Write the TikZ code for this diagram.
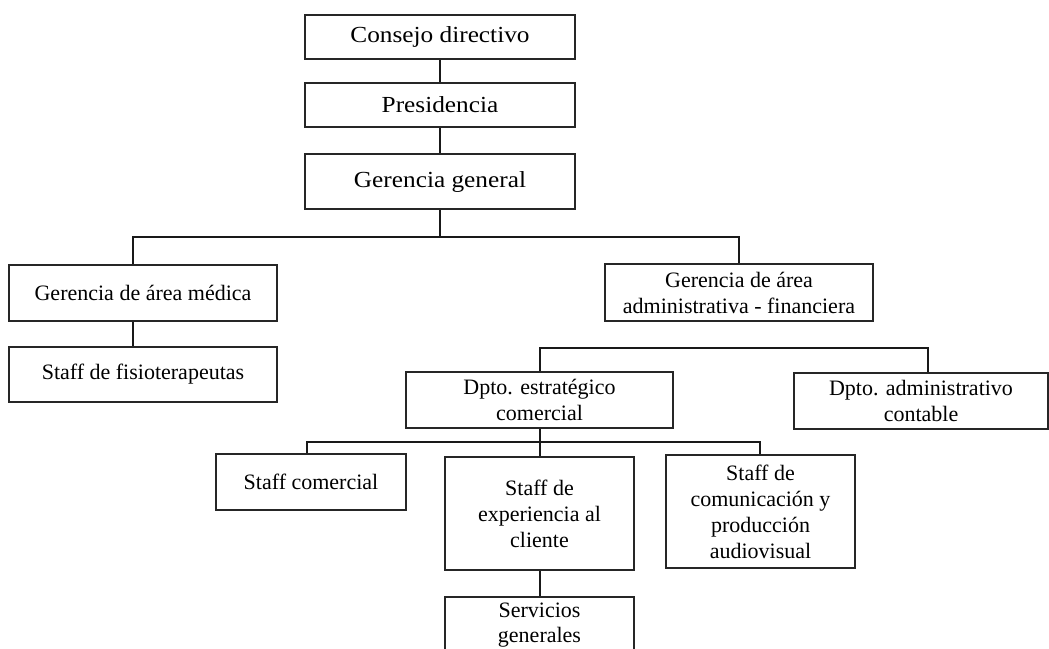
\documentclass[tikz,border=0pt]{standalone}
\usepackage{fontspec}
\setmainfont{Liberation Serif}
\newfontfamily\topfont[FakeStretch=1.1]{Liberation Serif}
\begin{document}
\begin{tikzpicture}[x=1pt,y=-1pt,
  box/.style={draw=black!85,line width=1.3pt,inner sep=0pt,align=center,
    font=\fontsize{22}{26}\selectfont},
  topbox/.style={box,font=\topfont\fontsize{23}{27}\selectfont},
  conn/.style={draw=black!90,line width=2pt}]
\useasboundingbox (0,0) rectangle (1049,648);
\clip (0,0) rectangle (1049,648);
% top chain
\node[topbox,minimum width=270pt,minimum height=44pt] (consejo) at (440,37) {Consejo directivo};
\node[topbox,minimum width=270pt,minimum height=44pt] (presid) at (440,105) {Presidencia};
\node[topbox,minimum width=270pt,minimum height=55pt] (gerencia) at (440,181.5) {Gerencia general};
% level 2
\node[box,minimum width=268pt,minimum height=56pt] (gmedica) at (143,293) {Gerencia de área médica};
\node[box,minimum width=268pt,minimum height=55pt] (fisio) at (143,374.5) {Staff de fisioterapeutas};
\node[box,minimum width=268pt,minimum height=57pt] (gadmin) at (739,292.5) {Gerencia de área\\administrativa - financiera};
% level 3
\node[box,minimum width=267pt,minimum height=56pt] (dptoestr) at (539.5,400) {Dpto. estratégico\\comercial};
\node[box,minimum width=254pt,minimum height=56pt] (dptocont) at (921,401) {Dpto. administrativo\\contable};
% level 4
\node[box,minimum width=190pt,minimum height=56pt] (staffcom) at (311,482) {Staff comercial};
\node[box,minimum width=189pt,minimum height=113pt] (staffexp) at (539.5,513.5) {Staff de\\experiencia al\\cliente};
\node[box,minimum width=189pt,minimum height=113pt] (staffcomu) at (760.5,511.5) {Staff de\\comunicación y\\producción\\audiovisual};
\node[box,minimum width=189pt,minimum height=56pt,font=\fontsize{22}{25}\selectfont] (servicios) at (539.5,625) {Servicios\\generales};
% bar coordinates
\coordinate (b1L) at (133,237);
\coordinate (b1R) at (739,237);
\coordinate (b2L) at (540,348);
\coordinate (b2R) at (928,348);
\coordinate (b3L) at (307,442);
\coordinate (b3R) at (760,442);
% connectors
\draw[conn] (consejo.south) -- (presid.north);
\draw[conn] (presid.south) -- (gerencia.north);
\draw[conn] (gerencia.south) -- (gerencia.south |- b1L);
\draw[conn] (b1L |- gmedica.north) -- (b1L) -- (b1R) -- (gadmin.north);
\draw[conn] (gmedica.south -| b1L) -- (fisio.north -| b1L);
\draw[conn] (dptoestr.north -| b2L) -- (b2L) -- (b2R) -- (b2R |- dptocont.north);
\draw[conn] (staffcom.north -| b3L) -- (b3L) -- (b3R) -- (b3R |- staffcomu.north);
\draw[conn] (dptoestr.south) -- (staffexp.north);
\draw[conn] (staffexp.south) -- (servicios.north);
\end{tikzpicture}
\end{document}
